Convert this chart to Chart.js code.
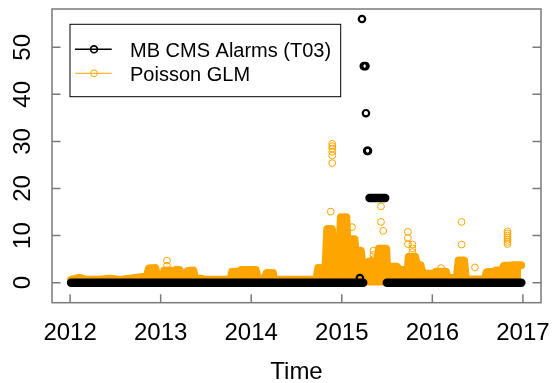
<!DOCTYPE html>
<html>
<head>
<meta charset="utf-8">
<script src="https://cdn.jsdelivr.net/npm/chart.js@4/dist/chart.umd.min.js"></script>
<style>
    body { margin: 0; background: #fff; }
    canvas { display: block; }
</style>
</head>
<body>
<canvas id="alarms" width="553" height="383"></canvas>
<script>
// daily alarm counts: long runs at a constant level
const alarmRunFrom = [2012.01, 2015.306, 2015.497];
const alarmRunTo = [2015.237, 2015.48, 2016.983];
const alarmRunLevel = [0, 18, 0];

// single alarm days that stand out
const alarmTime = [2015.20, 2015.223, 2015.243, 2015.262, 2015.267, 2015.28, 2015.29];
const alarmCount = [1, 56, 46, 46, 36, 28, 28];

// upper edge of the dense cloud of fitted values
const glmTime = [2012.01, 2012.10, 2012.18, 2012.28, 2012.44, 2012.55, 2012.68, 2012.80, 2012.84, 2012.87,
    2012.94, 2012.96, 2013.03, 2013.04, 2013.10, 2013.13, 2013.16, 2013.21, 2013.24, 2013.27,
    2013.30, 2013.36, 2013.38, 2013.45, 2013.49, 2013.77, 2013.79, 2013.86, 2013.88, 2013.89,
    2014.05, 2014.07, 2014.15, 2014.17, 2014.24, 2014.25, 2014.72, 2014.74, 2014.82, 2014.84,
    2014.89, 2014.91, 2014.97, 2014.99, 2015.05, 2015.06, 2015.14, 2015.15, 2015.21, 2015.23,
    2015.28, 2015.30, 2015.39, 2015.41, 2015.49, 2015.50, 2015.61, 2015.63, 2015.73, 2015.74,
    2015.81, 2015.83, 2015.87, 2015.89, 2016.02, 2016.04, 2016.15, 2016.17, 2016.27, 2016.29,
    2016.35, 2016.37, 2016.58, 2016.60, 2016.68, 2016.70, 2016.77, 2016.79, 2016.86, 2016.88, 2016.98];
const glmUpper = [0.6, 1.0, 0.6, 0.6, 0.85, 0.6, 0.9, 1.2, 0.8, 3.0,
    3.1, 1.5, 1.5, 2.6, 2.6, 1.2, 2.7, 2.7, 1.0, 1.2,
    2.5, 2.6, 0.9, 0.85, 0.6, 0.6, 2.3, 2.3, 1.0, 2.7,
    2.7, 0.9, 0.9, 2.05, 2.05, 0.6, 0.6, 3.1, 3.0, 11.4,
    11.4, 5.0, 5.0, 13.9, 13.9, 9.2, 9.2, 6.8, 6.8, 3.4,
    3.4, 4.5, 4.5, 7.2, 7.2, 3.4, 3.4, 2.7, 2.7, 5.5,
    5.5, 3.7, 3.7, 1.9, 1.9, 2.3, 2.3, 1.0, 1.0, 4.7,
    4.7, 0.7, 0.7, 2.2, 2.3, 2.6, 2.6, 3.6, 3.6, 3.7, 3.7];

// fitted values that sit apart from the cloud
const glmPointTime = [2013.07, 2013.07, 2014.878, 2014.895, 2014.895, 2014.895, 2014.895, 2014.895, 2014.895,
    2015.113, 2015.25, 2015.35, 2015.35, 2015.35, 2015.433, 2015.433, 2015.458,
    2015.73, 2015.73, 2015.73, 2015.78, 2015.78, 2015.78, 2015.89, 2016.098, 2016.323, 2016.323, 2016.47,
    2016.83, 2016.83, 2016.83, 2016.83, 2016.83, 2016.83, 2016.83, 2016.83];
const glmPointValue = [4.7, 3.6, 15.1, 29.5, 29.0, 28.5, 27.8, 27.0, 25.4,
    11.8, 4.0, 6.8, 5.9, 5.0, 16.2, 12.9, 11.0,
    10.8, 9.5, 8.2, 8.1, 7.3, 6.5, 2.5, 3.1, 12.9, 8.1, 3.25,
    10.9, 10.45, 10.0, 9.55, 9.1, 8.65, 8.2, 3.5];

const xTicks = [2012, 2013, 2014, 2015, 2016, 2017];
const yTicks = [0, 10, 20, 30, 40, 50];
const xTitle = 'Time';
const seriesNames = ['MB CMS Alarms (T03)', 'Poisson GLM'];

const orange = '#FFA500';
const frameGrey = '#7a7a7a';
const fontFamily = "'Liberation Sans', Arial, sans-serif";

function points(xs, ys) {
    return xs.map((x, i) => ({ x: x, y: ys[i] }));
}

let datasets = [];

datasets.push({
    data: points(alarmTime, alarmCount),
    showLine: false,
    pointRadius: 3.2,
    pointBorderWidth: 2.2,
    pointBorderColor: '#000',
    pointBackgroundColor: 'rgba(0,0,0,0)'
});

for (let i = 0; i < alarmRunLevel.length; i++) {
    datasets.push({
        data: [{ x: alarmRunFrom[i], y: alarmRunLevel[i] }, { x: alarmRunTo[i], y: alarmRunLevel[i] }],
        borderColor: '#000',
        borderWidth: 8.4,
        borderCapStyle: 'round',
        pointRadius: 0,
        fill: false
    });
}

datasets.push({
    data: points(glmPointTime, glmPointValue),
    showLine: false,
    pointRadius: 3.4,
    pointBorderWidth: 1,
    pointBorderColor: orange,
    pointBackgroundColor: 'rgba(0,0,0,0)'
});

datasets.push({
    data: points(glmTime, glmUpper),
    borderColor: orange,
    backgroundColor: orange,
    borderWidth: 8,
    borderJoinStyle: 'round',
    borderCapStyle: 'round',
    tension: 0,
    pointRadius: 0,
    fill: { target: { value: -0.6 } }
});

// base-graphics style frame, inward ticks, rotated y labels and boxed legend
const rFrame = {
    id: 'rFrame',
    afterDraw(chart) {
        const ctx = chart.ctx;
        const a = chart.chartArea;
        const sx = chart.scales.x;
        const sy = chart.scales.y;
        ctx.save();
        ctx.strokeStyle = frameGrey;
        ctx.lineWidth = 1.5;
        ctx.strokeRect(a.left, a.top, a.right - a.left, a.bottom - a.top);
        ctx.beginPath();
        xTicks.forEach(t => {
            const px = sx.getPixelForValue(t);
            ctx.moveTo(px, a.bottom);
            ctx.lineTo(px, a.bottom - 8.5);
        });
        yTicks.forEach(t => {
            const py = sy.getPixelForValue(t);
            ctx.moveTo(a.left, py);
            ctx.lineTo(a.left + 8.5, py);
            ctx.moveTo(a.right, py);
            ctx.lineTo(a.right - 8.5, py);
        });
        ctx.stroke();

        ctx.fillStyle = '#000';
        ctx.font = '24px ' + fontFamily;
        ctx.textAlign = 'center';
        ctx.textBaseline = 'alphabetic';
        xTicks.forEach(t => {
            ctx.fillText(String(t), sx.getPixelForValue(t), 340);
        });
        ctx.fillText(xTitle, (a.left + a.right) / 2, 378.7);
        yTicks.forEach(t => {
            ctx.save();
            ctx.translate(30.3, sy.getPixelForValue(t));
            ctx.rotate(-Math.PI / 2);
            ctx.fillText(String(t), 0, 0);
            ctx.restore();
        });

        // legend
        ctx.fillStyle = '#fff';
        ctx.fillRect(70, 24.3, 270.7, 72.4);
        ctx.strokeStyle = '#000';
        ctx.lineWidth = 1;
        ctx.strokeRect(70, 24.3, 270.7, 72.4);
        const rows = [
            { y: 49.3, color: '#000', width: 1.6 },
            { y: 73.3, color: orange, width: 1 }
        ];
        ctx.font = '20px ' + fontFamily;
        ctx.textAlign = 'left';
        rows.forEach((r, i) => {
            ctx.strokeStyle = r.color;
            ctx.lineWidth = r.width;
            ctx.beginPath();
            ctx.moveTo(75, r.y);
            ctx.lineTo(111.7, r.y);
            ctx.stroke();
            ctx.beginPath();
            ctx.arc(94, r.y, 3.4, 0, Math.PI * 2);
            ctx.stroke();
            ctx.fillStyle = '#000';
            ctx.fillText(seriesNames[i], 130, r.y + 7.2);
        });
        ctx.restore();
    }
};

const myChart = new Chart(document.getElementById('alarms').getContext('2d'), {
    type: 'line',
    data: { datasets: datasets },
    options: {
        responsive: false,
        animation: false,
        devicePixelRatio: 1,
        layout: { padding: { left: 52, right: 12, top: 9, bottom: 80.3 } },
        scales: {
            x: { type: 'linear', min: 2011.8, max: 2017.2, display: false },
            y: { type: 'linear', min: -4.25, max: 58.13, display: false }
        },
        plugins: {
            legend: { display: false },
            tooltip: { enabled: false }
        }
    },
    plugins: [rFrame]
});
</script>
</body>
</html>
